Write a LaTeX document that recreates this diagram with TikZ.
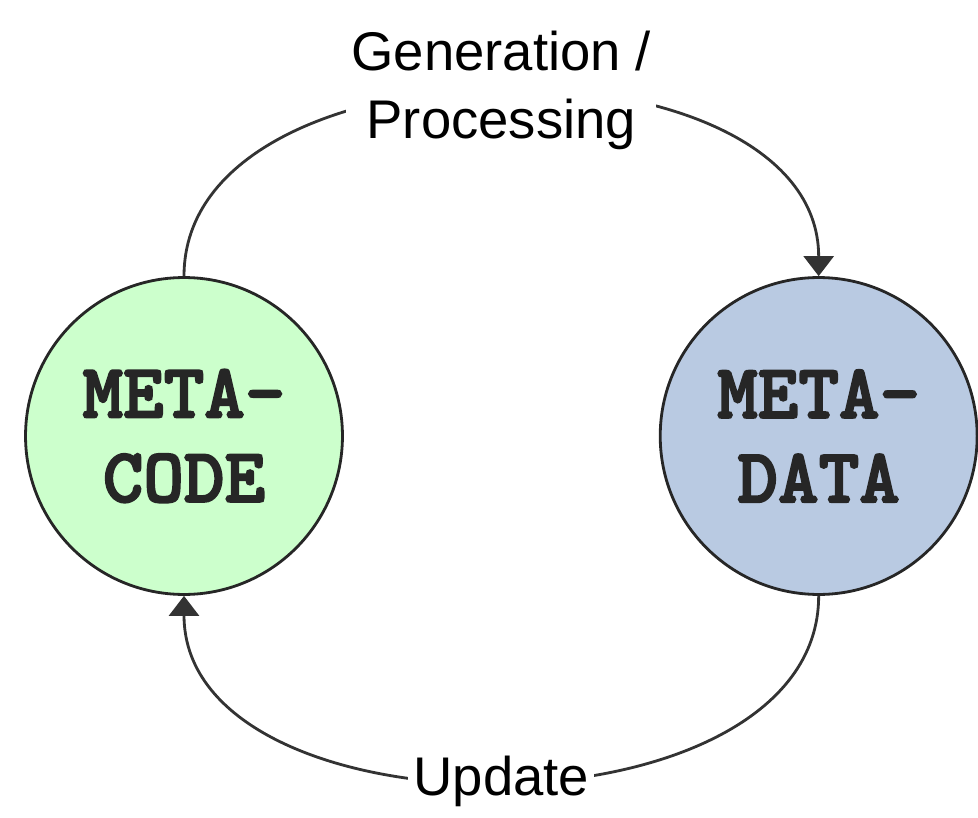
\documentclass[tikz,border=0pt]{standalone}
\usepackage{fontspec}
\setmainfont{Liberation Sans}
\newfontfamily\metafont{lmmonolt10-bold.otf}[FakeBold=2.5]
\usetikzlibrary{positioning,arrows.meta}
\definecolor{codegreen}{RGB}{204,255,204}
\definecolor{datablue}{RGB}{185,202,226}
\tikzset{>={Triangle[length=0.4cm,width=0.6cm]}}
\tikzset{
  meta/.style={draw=black!85,circle,line width=1.6pt,minimum size=6.34cm,inner sep=0pt,align=center,
    font=\fontsize{44}{48}\selectfont\metafont},
  lbl/.style={fill=white,align=center,inner sep=3pt,font=\fontsize{31}{38.5}\selectfont},
  flow/.style={->,draw=black!80,line width=1.6pt}
}

\begin{document}
\begin{tikzpicture}[x=0.02cm,y=-0.02cm]
\useasboundingbox (0,0) rectangle (978,818);
\node[meta,fill=codegreen,text=black!85] (code) at (184,436) {META-\\CODE};
\node[meta,fill=datablue,text=black!85,right=6.3cm of code] (data) {META-\\DATA};
\draw[flow] (code.north) to[out=90,in=90] node[lbl] (gen) {Generation /\\Processing} (data.north);
\draw[flow] (data.south) to[out=-90,in=-90] node[lbl] (upd) {Update} (code.south);
\end{tikzpicture}
\end{document}
